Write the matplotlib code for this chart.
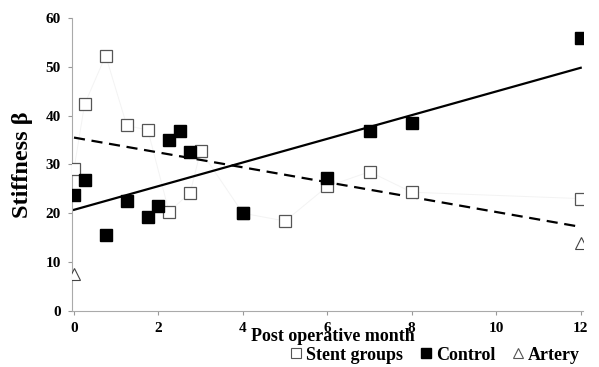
import matplotlib.pyplot as plt
from matplotlib.lines import Line2D

plt.rcParams['font.family'] = ['Liberation Serif', 'DejaVu Serif']
plt.rcParams['font.weight'] = 'bold'

# stent groups (open squares)
stent_month = [0, 0.25, 0.75, 1.25, 1.75, 2.25, 2.75, 3, 4, 5, 6, 7, 8, 12]
stent_beta = [29.0, 42.3, 52.3, 38.0, 37.0, 20.3, 24.2, 32.8, 20.0, 18.4, 25.5, 28.5, 24.3, 23.0]

# control (filled squares)
control_month = [0, 0.25, 0.75, 1.25, 1.75, 2, 2.25, 2.5, 2.75, 4, 6, 7, 8, 12]
control_beta = [23.8, 26.8, 15.6, 22.5, 19.2, 21.4, 34.9, 36.8, 32.5, 20.0, 27.2, 36.8, 38.5, 55.8]

# artery (open triangles)
artery_month = [0, 12]
artery_beta = [7.5, 14.0]

# linear trend lines (endpoints at month 0 and 12)
trend_x = [0, 12]
control_trend = [20.7, 49.8]
stent_trend = [35.5, 17.2]

x_ticks = [0, 2, 4, 6, 8, 10, 12]
y_ticks = [0, 10, 20, 30, 40, 50, 60]

fig = plt.figure(figsize=(5.99, 3.67), dpi=100)
ax = fig.add_axes([0.12, 0.153, 0.853, 0.798])

ax.plot(stent_month, stent_beta, color='#f3f3f3', lw=0.7, zorder=1)
ax.plot(trend_x, control_trend, color='black', lw=1.6, zorder=2)
ax.plot(trend_x, stent_trend, color='black', lw=1.6, ls=(0, (5, 3)), zorder=2)
ax.plot(stent_month, stent_beta, 's', ms=8.5, mfc='white', mec='#555555', mew=0.9, zorder=3)
ax.plot(control_month, control_beta, 's', ms=8.5, mfc='black', mec='black', zorder=4)
ax.plot(artery_month, artery_beta, '^', ms=9, mfc='white', mec='#444444', mew=0.8, zorder=3)

ax.set_xlim(-0.05, 12.05)
ax.set_ylim(0, 60)
ax.set_xticks(x_ticks)
ax.set_yticks(y_ticks)
ax.tick_params(labelsize=11, length=3, color='#999999', pad=5)
for s in ['top', 'right']:
    ax.spines[s].set_visible(False)
for s in ['left', 'bottom']:
    ax.spines[s].set_color('#aaaaaa')

ax.set_ylabel('Stiffness β', fontsize=17.5, fontweight='bold', labelpad=9)
fig.text(0.555, 0.083, 'Post operative month', fontsize=13, fontweight='bold',
         ha='center', va='center')

handles = [
    Line2D([], [], ls='none', marker='s', ms=7, mfc='white', mec='#555555', mew=0.8),
    Line2D([], [], ls='none', marker='s', ms=7, mfc='black', mec='black'),
    Line2D([], [], ls='none', marker='^', ms=7.5, mfc='white', mec='#555555', mew=0.8),
]
fig.legend(handles, ['Stent groups', 'Control', 'Artery'], loc='lower right',
           bbox_to_anchor=(0.995, -0.035), ncol=3, frameon=False,
           prop={'size': 13, 'weight': 'bold'}, handletextpad=0.1,
           columnspacing=0.8, handlelength=0.9)

fig.savefig('out.png', dpi=100)
